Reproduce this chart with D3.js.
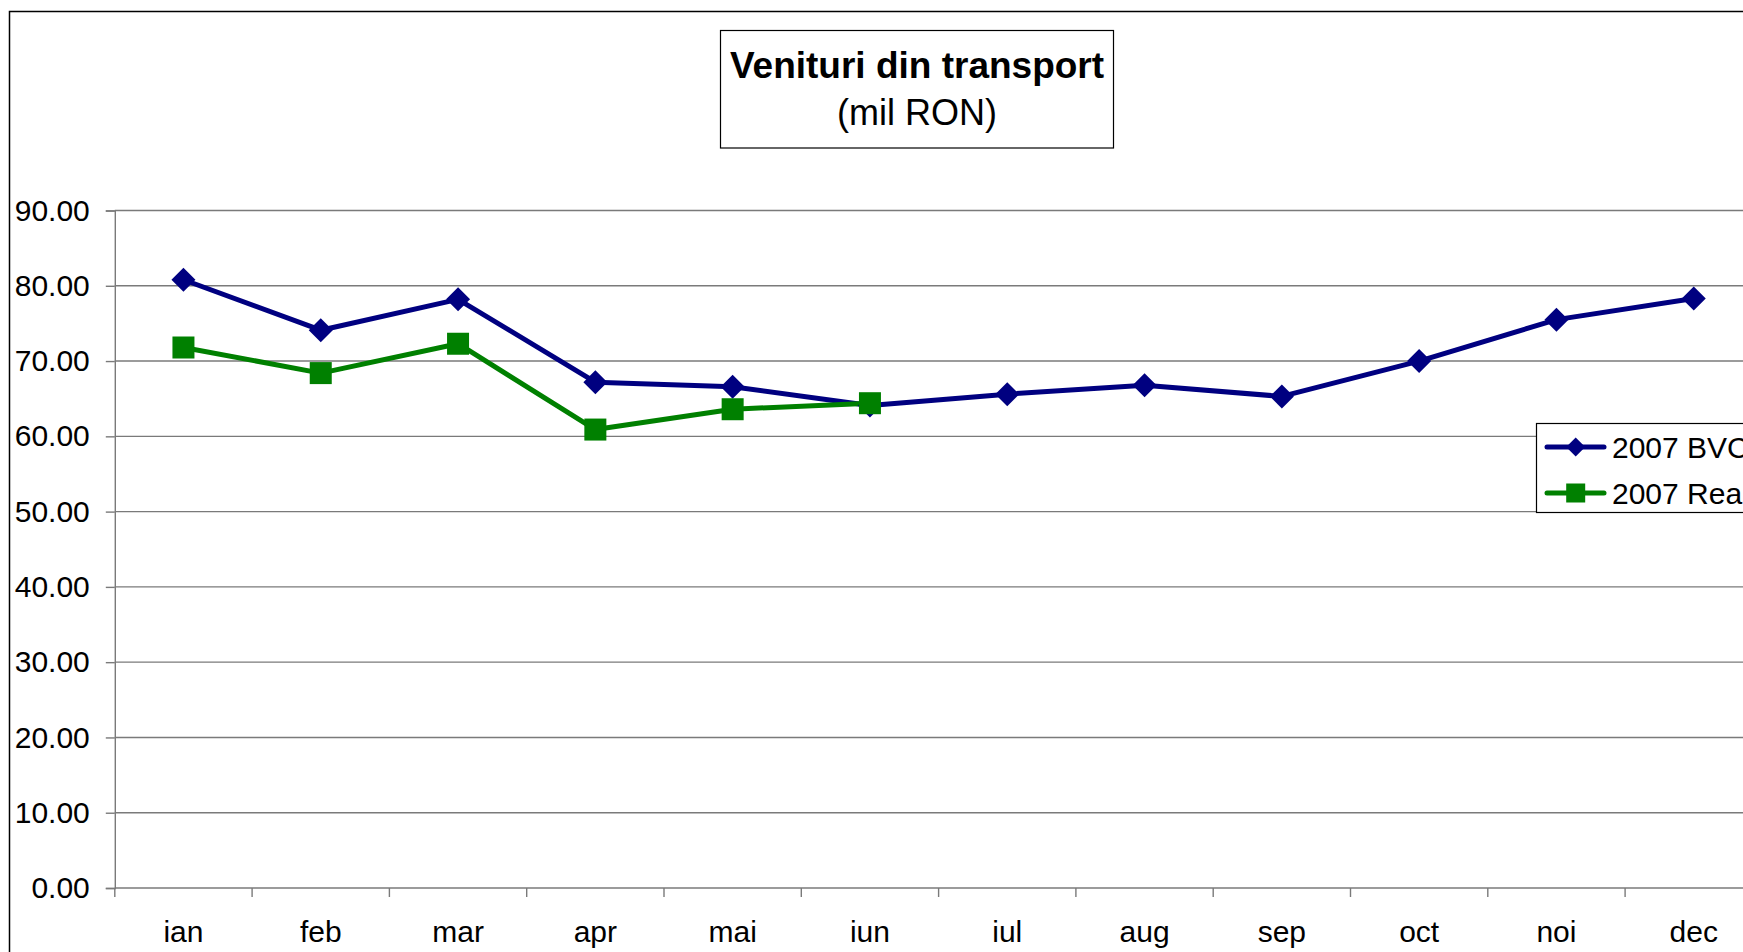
<!DOCTYPE html>
<html>
<head>
<meta charset="utf-8">
<script src="https://cdn.jsdelivr.net/npm/d3@7"></script>
<style>
  html, body { margin: 0; padding: 0; background: #fff; overflow: hidden; }
  svg { display: block; font-family: "Liberation Sans", Arial, Helvetica, sans-serif; }
</style>
</head>
<body>
<svg id="chart" width="1743" height="952"></svg>
<script>
// ---- Data ----
const months = ["ian", "feb", "mar", "apr", "mai", "iun", "iul", "aug", "sep", "oct", "noi", "dec"];
const bvc2007 = [80.8, 74.1, 78.2, 67.2, 66.6, 64.1, 65.6, 66.8, 65.3, 70.0, 75.5, 78.3];
const real2007 = [71.8, 68.4, 72.3, 60.9, 63.6, 64.4];
const yTicks = [0, 10, 20, 30, 40, 50, 60, 70, 80, 90];
const seriesNames = ["2007 BVC", "2007 Realizat"];
const titleText = "Venituri din transport";
const subtitleText = "(mil RON)";

// ---- Layout ----
const svg = d3.select("#chart");
const plot = { left: 114.8, right: 114.8 + 12 * 137.3, top: 210.5, bottom: 888 };
const colBVC = "#000080", colReal = "#008000";
const gridCol = "#7a7a7a";

// chart area border
svg.append("rect")
  .attr("x", 9.5).attr("y", 11.5)
  .attr("width", 1800).attr("height", 1000)
  .attr("fill", "#fff").attr("stroke", "#000").attr("stroke-width", 1.5);

const x = d3.scaleBand().domain(months).range([plot.left, plot.right]).padding(0);
const y = d3.scaleLinear().domain([0, 90]).range([plot.bottom, plot.top]);

// gridlines
svg.append("g").selectAll("line").data(yTicks.filter(d => d > 0)).join("line")
  .attr("x1", plot.left).attr("x2", plot.right)
  .attr("y1", d => y(d)).attr("y2", d => y(d))
  .attr("stroke", gridCol).attr("stroke-width", 1.4);

// y axis
const yAxis = svg.append("g").attr("transform", `translate(${plot.left},0)`)
  .call(d3.axisLeft(y).tickValues(yTicks).tickFormat(d3.format(".2f")).tickSize(9).tickPadding(16));
yAxis.select(".domain").attr("stroke", gridCol).attr("stroke-width", 1.4);
yAxis.selectAll(".tick line").attr("stroke", gridCol).attr("stroke-width", 1.4);
yAxis.selectAll(".tick text")
  .attr("font-size", 30).attr("fill", "#000")
  .attr("font-family", "Liberation Sans, Arial, sans-serif");

// x axis
const xAxis = svg.append("g").attr("transform", `translate(0,${plot.bottom})`)
  .call(d3.axisBottom(x).tickSize(0).tickPadding(0));
xAxis.select(".domain").remove();
svg.append("line")
  .attr("x1", plot.left).attr("x2", plot.right)
  .attr("y1", plot.bottom).attr("y2", plot.bottom)
  .attr("stroke", gridCol).attr("stroke-width", 1.4);
// category boundary ticks
svg.append("g").selectAll("line").data(months).join("line")
  .attr("x1", d => x(d)).attr("x2", d => x(d))
  .attr("y1", plot.bottom).attr("y2", plot.bottom + 9)
  .attr("stroke", gridCol).attr("stroke-width", 1.4);
xAxis.selectAll(".tick text")
  .attr("font-size", 30).attr("fill", "#000")
  .attr("font-family", "Liberation Sans, Arial, sans-serif")
  .attr("y", 0).attr("dy", 0)
  .attr("transform", "translate(0,54)");

const cx = d => x(d) + x.bandwidth() / 2;

// lines
const lineGen = d3.line().x(d => cx(d.m)).y(d => y(d.v));
const bvcData = bvc2007.map((v, i) => ({ m: months[i], v }));
const realData = real2007.map((v, i) => ({ m: months[i], v }));

svg.append("path").datum(bvcData).attr("d", lineGen)
  .attr("fill", "none").attr("stroke", colBVC).attr("stroke-width", 5).attr("stroke-linejoin", "round");
svg.append("path").datum(realData).attr("d", lineGen)
  .attr("fill", "none").attr("stroke", colReal).attr("stroke-width", 5).attr("stroke-linejoin", "round");

const diamond = (r) => `M0,${-r}L${r},0L0,${r}L${-r},0Z`;
svg.append("g").selectAll("path").data(bvcData).join("path")
  .attr("d", diamond(12))
  .attr("transform", d => `translate(${cx(d.m)},${y(d.v)})`)
  .attr("fill", colBVC);
svg.append("g").selectAll("rect").data(realData).join("rect")
  .attr("x", d => cx(d.m) - 11).attr("y", d => y(d.v) - 11)
  .attr("width", 22).attr("height", 22)
  .attr("fill", colReal);

// title box
const tb = { x: 720.5, y: 30.5, w: 393, h: 117.5 };
svg.append("rect").attr("x", tb.x).attr("y", tb.y).attr("width", tb.w).attr("height", tb.h)
  .attr("fill", "#fff").attr("stroke", "#000").attr("stroke-width", 1.2);
svg.append("text").attr("x", tb.x + tb.w / 2).attr("y", 78)
  .attr("text-anchor", "middle").attr("font-size", 37).attr("font-weight", "bold")
  .text(titleText);
svg.append("text").attr("x", tb.x + tb.w / 2).attr("y", 125)
  .attr("text-anchor", "middle").attr("font-size", 36)
  .text(subtitleText);

// legend
const lg = svg.append("g");
lg.append("rect").attr("x", 1536.5).attr("y", 423.5).attr("width", 300).attr("height", 89)
  .attr("fill", "#fff").attr("stroke", "#000").attr("stroke-width", 1.2);
const legItems = [
  { name: seriesNames[0], col: colBVC, shape: "diamond", yy: 447 },
  { name: seriesNames[1], col: colReal, shape: "square", yy: 493 }
];
legItems.forEach(it => {
  lg.append("line").attr("x1", 1547).attr("x2", 1604).attr("y1", it.yy).attr("y2", it.yy)
    .attr("stroke", it.col).attr("stroke-width", 5).attr("stroke-linecap", "round");
  if (it.shape === "diamond") {
    lg.append("path").attr("d", diamond(9.5)).attr("transform", `translate(1575.7,${it.yy})`).attr("fill", it.col);
  } else {
    lg.append("rect").attr("x", 1575.7 - 9.5).attr("y", it.yy - 9.5).attr("width", 19).attr("height", 19).attr("fill", it.col);
  }
  lg.append("text").attr("x", 1612).attr("y", it.yy + 11).attr("font-size", 30).text(it.name);
});
</script>
</body>
</html>
